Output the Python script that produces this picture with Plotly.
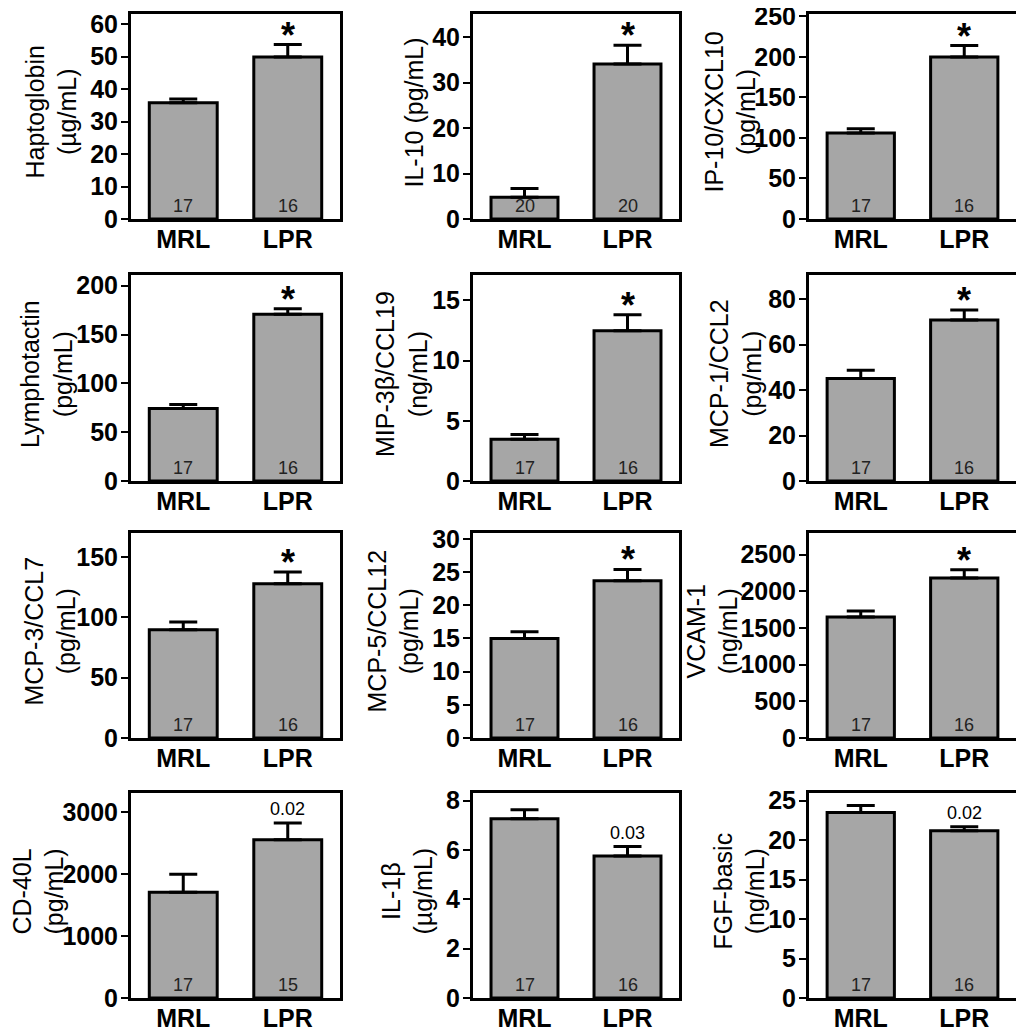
import plotly.graph_objects as go

W, H = 1024, 1035
OFF = 8  # page body margin the figure sits behind

# data (mean, SEM upward, group size)
groups = ["MRL", "LPR"]
titles = ["Haptoglobin<br>(µg/mL)", "IL-10 (pg/mL)", "IP-10/CXCL10<br>(pg/mL)",
          "Lymphotactin<br>(pg/mL)", "MIP-3β/CCL19<br>(ng/mL)", "MCP-1/CCL2<br>(pg/mL)",
          "MCP-3/CCL7<br>(pg/mL)", "MCP-5/CCL12<br>(pg/mL)", "VCAM-1<br>(ng/mL)",
          "CD-40L<br>(pg/mL)", "IL-1β<br>(µg/mL)", "FGF-basic<br>(ng/mL)"]
mrl_mean = [35.8, 4.8, 106, 74.3, 3.47, 45.1, 89.8, 15.0, 1650, 1705, 7.27, 23.5]
mrl_sem = [1.1, 1.9, 5.5, 4.1, 0.39, 3.7, 6.3, 1.0, 82, 292, 0.36, 0.9]
lpr_mean = [49.9, 34.1, 200, 170.9, 12.47, 70.9, 127.9, 23.7, 2182, 2553, 5.76, 21.2]
lpr_sem = [3.8, 4.1, 14, 5.5, 1.33, 4.4, 9.7, 1.7, 113, 269, 0.38, 0.5]
mrl_n = [17, 20, 17, 17, 17, 17, 17, 17, 17, 17, 17, 17]
lpr_n = [16, 20, 16, 16, 16, 16, 16, 16, 16, 15, 16, 16]
lpr_sig = ["*", "*", "*", "*", "*", "*", "*", "*", "*", "0.02", "0.03", "0.02"]

# axis settings
y_top = [63.1, 45.1, 253, 211, 17.1, 90.7, 170, 30.9, 2795, 3308, 8.31, 25.97]
y_dtick = [10, 10, 50, 50, 5, 20, 50, 5, 500, 1000, 2, 5]

# panel layout in screen pixels
col_px = [(131, 340), (473, 679), (809, 1016)]
row_px = [(14, 219), (275, 481), (533, 738), (793, 998)]
title_cx = [51, 414, 730, 46, 401, 735, 50, 393, 712, 38, 407, 739]

font_fam = "Arial, Liberation Sans, sans-serif"

fig = go.Figure()
annotations = []
layout = {}

for i in range(12):
    r, c = divmod(i, 3)
    k = "" if i == 0 else str(i + 1)
    x0, x1 = [p - OFF for p in col_px[c]]
    yt, yb = [p - OFF for p in row_px[r]]

    fig.add_trace(go.Bar(
        x=groups, y=[mrl_mean[i], lpr_mean[i]],
        xaxis="x" + k, yaxis="y" + k,
        width=0.65,
        marker=dict(color="#a6a6a6", line=dict(color="black", width=3)),
        error_y=dict(type="data", symmetric=False,
                     array=[mrl_sem[i], lpr_sem[i]], arrayminus=[0, 0],
                     color="black", thickness=3, width=14),
        showlegend=False, hoverinfo="skip",
    ))

    layout["xaxis" + k] = dict(
        domain=[x0 / W, x1 / W], anchor="y" + k, automargin=False,
        range=[-0.5, 1.5], type="category",
        showline=True, linecolor="black", linewidth=3, mirror=True,
        ticks="", showgrid=False, zeroline=False, ticklabelstandoff=-4,
        tickfont=dict(family=font_fam, size=25, color="black", weight="bold"),
    )
    layout["yaxis" + k] = dict(
        domain=[1 - yb / H, 1 - yt / H], anchor="x" + k, automargin=False,
        range=[0, y_top[i]], dtick=y_dtick[i], tick0=0,
        showline=True, linecolor="black", linewidth=3, mirror=True,
        ticks="outside", ticklen=7, tickwidth=2, tickcolor="black",
        showgrid=False, zeroline=False, ticklabelstandoff=-2,
        ticklabeloverflow="allow",
        tickfont=dict(family=font_fam, size=25, color="black", weight="bold"),
    )

    # y-axis title
    annotations.append(dict(
        text=titles[i], xref="paper", yref="paper",
        x=(title_cx[i] - OFF) / W, y=1 - ((yt + yb) / 2 - 4) / H,
        xanchor="center", yanchor="middle", textangle=-90, showarrow=False,
        font=dict(family=font_fam, size=25, color="black"),
    ))
    # group sizes inside bars
    for g, n in zip(groups, [mrl_n[i], lpr_n[i]]):
        annotations.append(dict(
            text=str(n), xref="x" + k, yref="y" + k, x=g, y=0,
            xanchor="center", yanchor="bottom", yshift=1, showarrow=False,
            font=dict(family=font_fam, size=18, color="#222222"),
        ))
    # significance label
    sig = lpr_sig[i]
    if sig == "*":
        annotations.append(dict(
            text="<b>*</b>", xref="x" + k, yref="y" + k,
            x="LPR", y=lpr_mean[i] + lpr_sem[i],
            xanchor="center", yanchor="bottom", yshift=-13, showarrow=False,
            font=dict(family=font_fam, size=36, color="black"),
        ))
    else:
        annotations.append(dict(
            text=sig, xref="x" + k, yref="y" + k,
            x="LPR", y=lpr_mean[i] + lpr_sem[i],
            xanchor="center", yanchor="bottom", yshift=2, showarrow=False,
            font=dict(family=font_fam, size=18, color="black"),
        ))

fig.update_layout(
    width=W, height=H,
    margin=dict(l=0, r=0, t=0, b=0, autoexpand=False),
    paper_bgcolor="white", plot_bgcolor="white",
    bargap=0.35,
    annotations=annotations,
    **layout,
)

fig.write_html("out.html")
